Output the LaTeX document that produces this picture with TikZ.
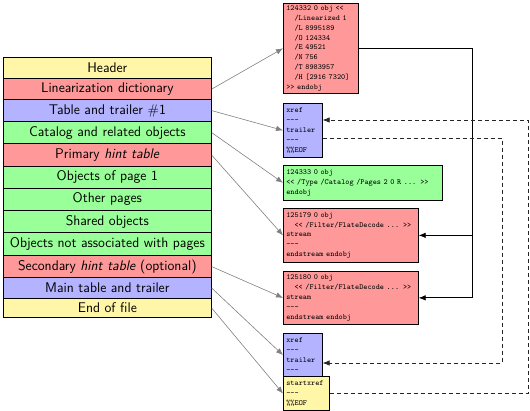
\documentclass[tikz,border=0pt]{standalone}
\usetikzlibrary{arrows.meta,calc}

\definecolor{pyellow}{RGB}{255,246,168}
\definecolor{pred}{RGB}{255,153,153}
\definecolor{pblue}{RGB}{179,179,255}
\definecolor{pgreen}{RGB}{153,255,153}

\newcommand\tdash{-{}-{}-}
\newcommand\ind{\hspace*{1.05em}}

\tikzset{
  part/.style={draw=black, line width=0.7pt, minimum width=208pt, inner sep=0pt,
    anchor=north west, font=\sffamily\fontsize{14}{16}\selectfont},
  code/.style={draw=black, line width=0.7pt, anchor=north west, align=left,
    inner xsep=3pt, inner ysep=0pt, font=\ttfamily\fontsize{7.8}{9.9}\selectfont},
  link/.style={draw=gray, line width=0.6pt, -{Latex[length=7pt,width=5.5pt]}},
  ref/.style={draw=black, line width=0.7pt, -{Latex[length=7pt,width=5.5pt]}},
  back/.style={draw=black!85, line width=0.7pt, dash pattern=on 4pt off 3pt,
    -{Latex[length=7pt,width=5.5pt]}},
}

\begin{document}
\begin{tikzpicture}[x=1pt,y=-1pt]
\useasboundingbox (0,0) rectangle (530,411);

% file layout, top to bottom
\node[part, fill=pyellow, minimum height=21pt]   (p-head)   at (3,57)    {Header};
\node[part, fill=pred,    minimum height=21.5pt] (p-lin)    at (3,78)    {Linearization dictionary};
\node[part, fill=pblue,   minimum height=21.5pt] (p-xref1)  at (3,99.5)  {Table and trailer \#1};
\node[part, fill=pgreen,  minimum height=22.5pt] (p-cat)    at (3,121)   {Catalog and related objects};
\node[part, fill=pred,    minimum height=22.5pt] (p-hint1)  at (3,143.5) {Primary \textit{hint table}};
\node[part, fill=pgreen,  minimum height=22pt]   (p-page1)  at (3,166)   {Objects of page 1};
\node[part, fill=pgreen,  minimum height=22pt]   (p-other)  at (3,188)   {Other pages};
\node[part, fill=pgreen,  minimum height=22.5pt] (p-shared) at (3,210)   {Shared objects};
\node[part, fill=pgreen,  minimum height=22.5pt] (p-misc)   at (3,232.5) {Objects not associated with pages};
\node[part, fill=pred,    minimum height=22.5pt] (p-hint2)  at (3,255)   {Secondary \textit{hint table} (optional)};
\node[part, fill=pblue,   minimum height=20.5pt] (p-xref2)  at (3,277.5) {Main table and trailer};
\node[part, fill=pyellow, minimum height=19.5pt] (p-eof)    at (3,298)   {End of file};

% objects as they appear in the file
\node[code, fill=pred, text width=69pt, minimum height=90pt] (o-lin) at (283,3)
  {124332 0 obj <{}<\\
   \ind/Linearized 1\\
   \ind/L 8995189\\
   \ind/O 124334\\
   \ind/E 49521\\
   \ind/N 756\\
   \ind/T 8983957\\
   \ind/H [2916 7320]\\
   >{}> endobj};
\node[code, fill=pblue, text width=33pt, minimum height=54pt] (o-xref1) at (283,103)
  {xref\\ \tdash\\ trailer\\ \tdash\\ \%\%EOF};
\node[code, fill=pgreen, text width=153pt, minimum height=35pt] (o-cat) at (283,165)
  {124333 0 obj\\
   <{}< /Type /Catalog /Pages 2 0 R ... >{}>\\
   endobj};
\node[code, fill=pred, text width=129pt, minimum height=54pt] (o-hint1) at (283,208)
  {125179 0 obj\\
   \ind<{}< /Filter/FlateDecode ... >{}>\\
   stream\\
   \tdash\\
   endstream endobj};
\node[code, fill=pred, text width=129pt, minimum height=53pt] (o-hint2) at (283,271)
  {125180 0 obj\\
   \ind<{}< /Filter/FlateDecode ... >{}>\\
   stream\\
   \tdash\\
   endstream endobj};
\node[code, fill=pblue, text width=33pt, minimum height=43.5pt] (o-xref2) at (283,333)
  {xref\\ \tdash\\ trailer\\ \tdash};
\node[code, fill=pyellow, text width=40pt, minimum height=33.5pt] (o-eof) at (283,376.5)
  {startxref\\ \tdash\\ \%\%EOF};

% layout parts to their objects
\draw[link] (p-lin.east)   -- (o-lin.west);
\draw[link] (p-xref1.east) -- (o-xref1.west);
\draw[link] (p-cat.east)   -- (o-cat.west);
\draw[link] (p-hint1.east) -- (o-hint1.west);
\draw[link] (p-hint2.east) -- (o-hint2.west);
\draw[link] (p-xref2.east) -- (o-xref2.west);
\draw[link] (p-eof.east)   -- (o-eof.west);

% /H entry points to both hint streams
\coordinate (bus) at (472,0);
\draw[ref] (o-lin.east) -- (o-lin.east -| bus) |- (o-hint2.east);
\draw[ref] (o-hint1.east -| bus) -- (o-hint1.east);

% startxref and /Prev chain
\coordinate (far) at (528,0);
\coordinate (mid) at (502,0);
\coordinate (x1in)  at ($(o-xref1.north east)+(0,17)$);
\coordinate (x1out) at ($(o-xref1.north east)+(0,35)$);
\coordinate (x2in)  at ($(o-xref2.north east)+(0,30)$);
\draw[back] (o-eof.east) -- (o-eof.east -| far) |- (x1in);
\draw[back] (x1out) -- (x1out -| mid) |- (x2in);
\end{tikzpicture}
\end{document}
